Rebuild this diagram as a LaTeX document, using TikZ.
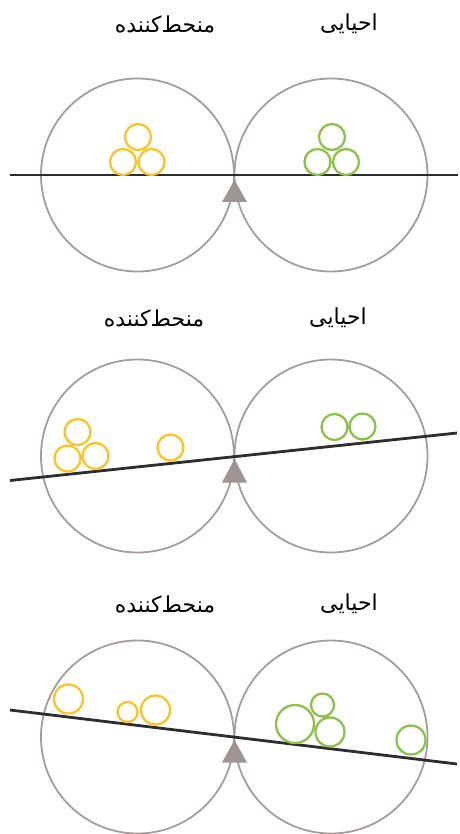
\documentclass[tikz,border=0pt]{standalone}
\usepackage{fontspec}
\newfontfamily\arabicfont[Script=Arabic]{DejaVu Sans}
\TeXXeTstate=1
\usepackage{tikz}
\definecolor{RingGray}{RGB}{165, 157, 155}
\definecolor{BeamDark}{RGB}{45, 45, 45}
\definecolor{OxYellow}{RGB}{250, 196, 40}
\definecolor{RedGreen}{RGB}{141, 193, 74}

\begin{document}
\begin{tikzpicture}[x=1pt, y=-1pt,
  ring/.style={draw=RingGray, line width=1.8pt},
  beam/.style={draw=BeamDark, line width=2.8pt},
  ox/.style={draw=OxYellow, line width=2.3pt},
  red/.style={draw=RedGreen, line width=2.3pt},
  pivot/.style={fill=RingGray!95!black},
  lbl/.style={font=\arabicfont\fontsize{22}{26}\selectfont, inner sep=0pt}]
\useasboundingbox (0,0) rectangle (459,834);
% panel 1: balanced
\node[lbl] (t1l) at (165,24) {\beginR منحط‌کننده\endR};
\node[lbl] (t1r) at (349,24) {\beginR احیایی\endR};
\draw[ring] (137.5,175) circle (96.5);
\draw[ring] (331,175) circle (96.5);
\coordinate (b1a) at (10,175);
\coordinate (b1b) at (458,175);
\draw[beam] (b1a) -- (b1b);
\fill[pivot] (234.5,180) -- (247,202) -- (222,202) -- cycle;
\draw[ox] (123,162) circle (13) (151.5,162) circle (13) (138,137) circle (13);
\draw[red] (317.5,162) circle (13) (346,162) circle (13) (332,137) circle (13);
% panel 2
\node[lbl] (t2l) at (154,318) {\beginR منحط‌کننده\endR};
\node[lbl] (t2r) at (338,318) {\beginR احیایی\endR};
\draw[ring] (137.5,456) circle (96.5);
\draw[ring] (331,456) circle (96.5);
\coordinate (b2a) at (10,480.5);
\coordinate (b2b) at (457,433);
\draw[beam] (b2a) -- (b2b);
\fill[pivot] (234.5,459) -- (247,482.5) -- (222,482.5) -- cycle;
\draw[ox] (67.5,458.5) circle (13) (95.5,456) circle (13) (77.5,432) circle (13) (170.5,447.5) circle (13);
\draw[red] (334.5,427) circle (13) (362.5,426.5) circle (13);
% panel 3
\node[lbl] (t3l) at (165,604) {\beginR منحط‌کننده\endR};
\node[lbl] (t3r) at (349,604) {\beginR احیایی\endR};
\draw[ring] (137.5,737) circle (96.5);
\draw[ring] (331,737) circle (96.5);
\coordinate (b3a) at (10,710);
\coordinate (b3b) at (457,764);
\draw[beam] (b3a) -- (b3b);
\fill[pivot] (234.5,740) -- (247,762.5) -- (222,762.5) -- cycle;
\draw[ox] (68.5,699) circle (14.5) (127.5,712) circle (10) (155.5,710) circle (14.5);
\draw[red] (295,724) circle (19) (322.5,705) circle (11.5) (330,732) circle (14.5) (411,740) circle (14.5);
\end{tikzpicture}
\end{document}
